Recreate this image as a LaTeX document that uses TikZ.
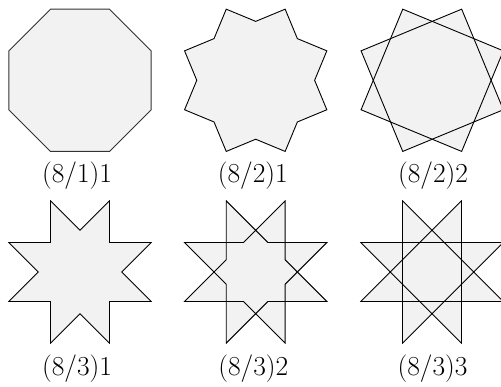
\documentclass[tikz,border=0pt]{standalone}
\begin{document}
\begin{tikzpicture}[x=1pt,y=-1pt,
  starfill/.style={fill=black!5},
  edge/.style={draw=black,line width=0.9pt,line join=miter},
  lbl/.style={anchor=base,inner sep=0pt,font=\fontsize{27.5}{32}\selectfont}]
\useasboundingbox (0,0) rectangle (501,387);
\def\R{77}
% (8/1)1 octagon
\begin{scope}[shift={(80,80.3)}]
  \path[starfill,edge,draw=black!80] (22.5:\R) \foreach \i in {1,...,7}{ -- (22.5+45*\i:\R)} -- cycle;
\end{scope}
% (8/2)1
\begin{scope}[shift={(255.7,80.3)}]
  \path[starfill,edge] (0:58.93) \foreach \i in {0,...,7}{ -- (45*\i+22.5:\R) -- (45*\i+45:58.93)} -- cycle;
\end{scope}
% (8/2)2
\begin{scope}[shift={(432.2,80.3)}]
  \path[starfill] (0:58.93) \foreach \i in {0,...,7}{ -- (45*\i+22.5:\R) -- (45*\i+45:58.93)} -- cycle;
  \path[edge] (22.5:\R) -- (112.5:\R) -- (202.5:\R) -- (292.5:\R) -- cycle;
  \path[edge] (67.5:\R) -- (157.5:\R) -- (247.5:\R) -- (337.5:\R) -- cycle;
\end{scope}
% (8/3)1
\begin{scope}[shift={(80,272)}]
  \path[starfill,edge] (0:41.67) \foreach \i in {0,...,7}{ -- (45*\i+22.5:\R) -- (45*\i+45:41.67)} -- cycle;
\end{scope}
% (8/3)2
\begin{scope}[shift={(255.7,272)}]
  \path[starfill,edge] (0:41.67) \foreach \i in {0,...,7}{ -- (45*\i+22.5:\R) -- (45*\i+45:41.67)} -- cycle;
  \path[edge] (0:41.67) \foreach \i in {0,...,7}{ -- (45*\i+22.5:31.89) -- (45*\i+45:41.67)} -- cycle;
\end{scope}
% (8/3)3
\begin{scope}[shift={(432,272)}]
  \path[starfill] (0:41.67) \foreach \i in {0,...,7}{ -- (45*\i+22.5:\R) -- (45*\i+45:41.67)} -- cycle;
  \path[edge] (22.5:\R) \foreach \i in {1,...,7}{ -- (22.5+135*\i:\R)} -- cycle;
\end{scope}
% labels
\node[lbl] (l1) at (77,183) {(8/1)1};
\node[lbl] (l2) at (252.8,183) {(8/2)1};
\node[lbl] (l3) at (433,183) {(8/2)2};
\node[lbl] (l4) at (77,376) {(8/3)1};
\node[lbl] (l5) at (253.3,376) {(8/3)2};
\node[lbl] (l6) at (432.6,376) {(8/3)3};
\end{tikzpicture}
\end{document}
